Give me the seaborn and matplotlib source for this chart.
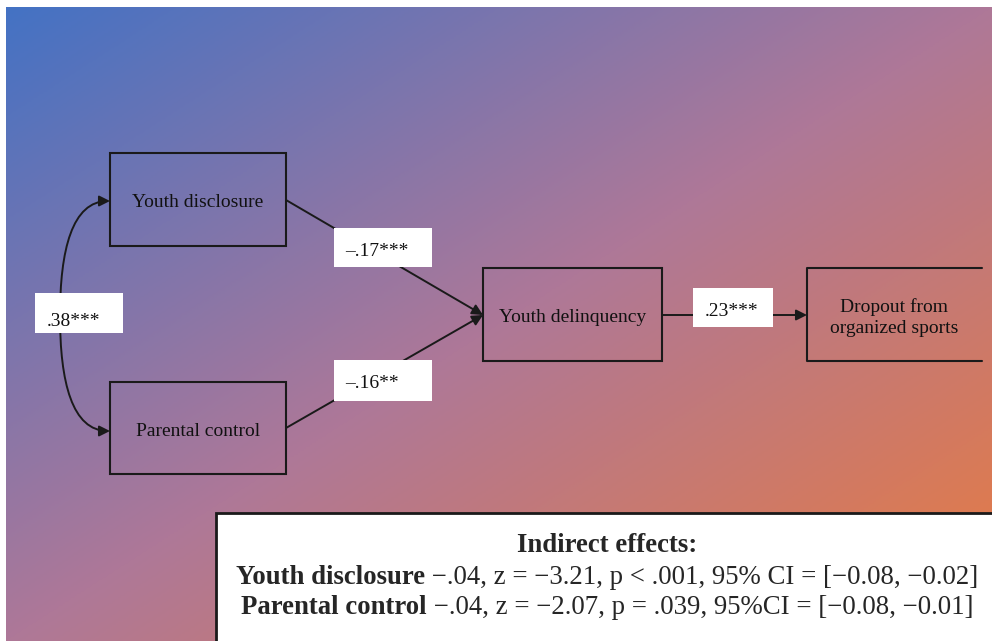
"""
Path model: parental knowledge sources -> youth delinquency -> sport dropout
"""

import numpy as np
import matplotlib
matplotlib.use("Agg")
import matplotlib.pyplot as plt
import seaborn as sns
from matplotlib.patches import Rectangle, FancyArrowPatch
from matplotlib.path import Path

# ---- data -------------------------------------------------------------
node_names = ["Youth disclosure", "Parental control", "Youth delinquency",
              "Dropout from\norganized sports"]
path_labels = ["–.17***", "–.16**", ".23***"]
covariance_label = ".38***"
indirect_title = "Indirect effects:"
indirect_predictors = ["Youth disclosure", "Parental control"]
indirect_stats = [" −.04, z = −3.21, p < .001, 95% CI = [−0.08, −0.02]",
                  " −.04, z = −2.07, p = .039, 95%CI = [−0.08, −0.01]"]
gradient_colors = ["#4472C4", "#AE7898", "#E97B3F"]

# ---- layout (pixel space, y down) ------------------------------------
W, H = 992, 641
boxes = [(110, 153, 286, 246), (110, 382, 286, 474),
         (483, 268, 662, 361), (807, 268, 982, 361)]
label_boxes = [(334, 228, 432, 267), (334, 360, 432, 401), (693, 288, 773, 327)]
label_text_pos = [(345, 251), (345, 384), (705, 312)]
cov_box = (35, 293, 123, 333)

sns.set_theme(style="white")
plt.rcParams["font.family"] = ["Liberation Serif", "DejaVu Serif"]

fig = plt.figure(figsize=(W / 100, H / 100), dpi=100)
ax = fig.add_axes([0, 0, 1, 1])
ax.set_xlim(0, W)
ax.set_ylim(H, 0)
ax.axis("off")

# diagonal gradient background
cmap = sns.blend_palette(gradient_colors, as_cmap=True)
gx = np.linspace(0, 1, 500)
gy = np.linspace(0, 1, 320)
grad = (gx[None, :] + gy[:, None]) / 2
ax.imshow(grad, cmap=cmap, extent=(6, W, H, 7), aspect="auto",
          vmin=0, vmax=1, interpolation="bilinear", zorder=0)

# node boxes
for i, (x0, y0, x1, y1) in enumerate(boxes):
    if i == 3:
        # right edge runs off the canvas
        ax.plot([x1, x0, x0, x1], [y0, y0, y1, y1], color="k", lw=1.5, zorder=2)
    else:
        ax.add_patch(Rectangle((x0, y0), x1 - x0, y1 - y0, fill=False,
                               ec="k", lw=1.5, zorder=2))
    ax.text((x0 + x1) / 2, (y0 + y1) / 2 + 3, node_names[i], ha="center",
            va="center", fontsize=14, linespacing=1.35, color="#111111", zorder=3)

# arrows
arrow_kw = dict(arrowstyle="-|>", mutation_scale=16, lw=1.4, color="k",
                shrinkA=0, shrinkB=0, zorder=2)
ax.add_patch(FancyArrowPatch((286, 200), (483, 315), **arrow_kw))
ax.add_patch(FancyArrowPatch((286, 428), (483, 315), **arrow_kw))
ax.add_patch(FancyArrowPatch((662, 315), (807, 315), **arrow_kw))

curve = Path([(110, 201), (72, 201), (60, 250), (60, 316),
              (60, 382), (72, 431), (110, 431)],
             [Path.MOVETO, Path.CURVE4, Path.CURVE4, Path.CURVE4,
              Path.CURVE4, Path.CURVE4, Path.CURVE4])
ax.add_patch(FancyArrowPatch(path=curve, arrowstyle="<|-|>", mutation_scale=16,
                             lw=1.4, color="k", zorder=2))

# coefficient labels
for (x0, y0, x1, y1), (tx, ty), lab in zip(label_boxes, label_text_pos, path_labels):
    ax.add_patch(Rectangle((x0, y0), x1 - x0, y1 - y0, fc="white", ec="none", zorder=4))
    ax.text(tx, ty, lab, ha="left", va="center", fontsize=14, color="#111111", zorder=5)
x0, y0, x1, y1 = cov_box
ax.add_patch(Rectangle((x0, y0), x1 - x0, y1 - y0, fc="white", ec="none", zorder=4))
ax.text(47, 321, covariance_label, ha="left", va="center", fontsize=14,
        color="#111111", zorder=5)

# indirect effects panel
ax.add_patch(Rectangle((216, 513), 800, 200, fc="white", ec="k", lw=2, zorder=4))
cx = 607
fs = 19.3
ax.text(cx, 545, indirect_title, ha="center", va="center", fontsize=fs,
        fontweight="bold", zorder=5)

renderer = fig.canvas.get_renderer()
for name, stats, ty in zip(indirect_predictors, indirect_stats, [577, 607]):
    t1 = ax.text(0, ty, name, ha="left", va="center", fontsize=fs,
                 fontweight="bold", zorder=5)
    t2 = ax.text(0, ty, stats, ha="left", va="center", fontsize=fs, zorder=5)
    w1 = t1.get_window_extent(renderer).width
    w2 = t2.get_window_extent(renderer).width
    start = cx - (w1 + w2) / 2
    t1.set_x(start)
    t2.set_x(start + w1)

fig.savefig("out.png", dpi=100, facecolor="white")
